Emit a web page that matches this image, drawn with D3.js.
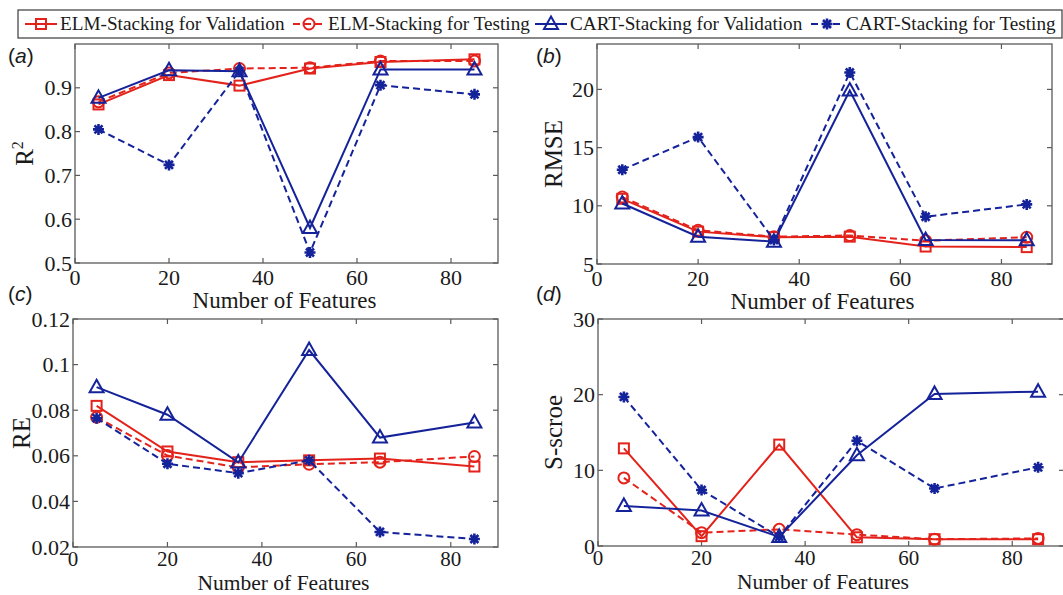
<!DOCTYPE html>
<html>
<head>
<meta charset="utf-8">
<script src="https://cdn.jsdelivr.net/npm/d3@7"></script>
<style>
body { margin: 0; background: #fff; }
svg { display: block; }
text { font-family: "Liberation Serif", "Times New Roman", serif; fill: #1a1a1a; }
</style>
</head>
<body>
<svg width="1063" height="595"></svg>
<script>
// number of features on the x axis
var features = [5, 20, 35, 50, 65, 85];
var seriesNames = ["ELM-Stacking for Validation", "ELM-Stacking for Testing",
                   "CART-Stacking for Validation", "CART-Stacking for Testing"];
var xTicks = [0, 20, 40, 60, 80];

// (a) R^2
var r2ElmVal   = [0.862, 0.929, 0.905, 0.944, 0.959, 0.965];
var r2ElmTest  = [0.868, 0.934, 0.944, 0.946, 0.961, 0.961];
var r2CartVal  = [0.877, 0.940, 0.938, 0.580, 0.942, 0.942];
var r2CartTest = [0.805, 0.724, 0.938, 0.524, 0.906, 0.885];
var r2Ticks = [0.5, 0.6, 0.7, 0.8, 0.9];

// (b) RMSE
var rmseElmVal   = [10.6, 7.78, 7.30, 7.35, 6.50, 6.45];
var rmseElmTest  = [10.75, 7.90, 7.35, 7.45, 7.00, 7.30];
var rmseCartVal  = [10.2, 7.35, 6.92, 19.9, 7.06, 7.05];
var rmseCartTest = [13.1, 15.9, 7.06, 21.45, 9.06, 10.12];
var rmseTicks = [5, 10, 15, 20];

// (c) RE
var reElmVal   = [0.0819, 0.0619, 0.0572, 0.0580, 0.0588, 0.0553];
var reElmTest  = [0.0769, 0.0601, 0.0549, 0.0563, 0.0572, 0.0597];
var reCartVal  = [0.0901, 0.0780, 0.0571, 0.1064, 0.0680, 0.0746];
var reCartTest = [0.0765, 0.0565, 0.0524, 0.0580, 0.0266, 0.0235];
var reTicks = [0.02, 0.04, 0.06, 0.08, 0.1, 0.12];

// (d) S-score
var sElmVal   = [12.9, 1.3, 13.4, 1.15, 0.9, 0.9];
var sElmTest  = [9.0, 1.76, 2.2, 1.5, 0.9, 1.0];
var sCartVal  = [5.3, 4.7, 1.2, 12.0, 20.1, 20.4];
var sCartTest = [19.7, 7.4, 1.2, 13.9, 7.6, 10.4];
var sTicks = [0, 10, 20, 30];

var red = "#e3231b", blue = "#15239a";
var styles = [
    {color: red,  dash: null,  marker: "square"},
    {color: red,  dash: "7,4", marker: "circle"},
    {color: blue, dash: null,  marker: "triangle"},
    {color: blue, dash: "7,4", marker: "asterisk"}
];

// top row has room below; bottom row is squeezed against the page edge
var rowText = {
    top:    {tickSize: 22, tickDy: 22, titleSize: 23, titleDy: 45},
    bottom: {tickSize: 21, tickDy: 19, titleSize: 21.5, titleDy: 43}
};

var panels = [
    {tag: "a", row: "top", box: [75, 498, 44, 263],  yDomain: [0.5, 1.0],  yTicks: r2Ticks,   fmt: d => d3.format(".1f")(d),
     yLabel: "R", sup: "2", series: [r2ElmVal, r2ElmTest, r2CartVal, r2CartTest], tagPos: [8, 63], ylx: 25},
    {tag: "b", row: "top", box: [597, 1052, 44, 264], yDomain: [5, 23.9],   yTicks: rmseTicks, fmt: d => d,
     yLabel: "RMSE", series: [rmseElmVal, rmseElmTest, rmseCartVal, rmseCartTest], tagPos: [536, 63], ylx: 554},
    {tag: "c", row: "bottom", box: [73, 498, 319, 547], yDomain: [0.02, 0.12], yTicks: reTicks, fmt: d => String(+d.toFixed(2)),
     yLabel: "RE", series: [reElmVal, reElmTest, reCartVal, reCartTest], tagPos: [8, 301], ylx: 22},
    {tag: "d", row: "bottom", box: [598, 1064, 319, 546], yDomain: [0, 30],  yTicks: sTicks,  fmt: d => d,
     yLabel: "S-scroe", series: [sElmVal, sElmTest, sCartVal, sCartTest], tagPos: [536, 301], ylx: 554}
];

var svg = d3.select("svg");

function drawMarker(g, type, x, y, color) {
    if (type === "square") {
        g.append("rect").attr("x", x - 5).attr("y", y - 5).attr("width", 10).attr("height", 10)
            .attr("fill", "none").attr("stroke", color).attr("stroke-width", 2);
    } else if (type === "circle") {
        g.append("circle").attr("cx", x).attr("cy", y).attr("r", 5.5)
            .attr("fill", "none").attr("stroke", color).attr("stroke-width", 2);
    } else if (type === "triangle") {
        g.append("path").attr("d", `M${x},${y - 7.5}L${x + 7},${y + 5}L${x - 7},${y + 5}Z`)
            .attr("fill", "none").attr("stroke", color).attr("stroke-width", 2);
    } else {
        var r = 5.5, q = 4;
        g.append("path")
            .attr("d", `M${x - r},${y}L${x + r},${y}M${x},${y - r}L${x},${y + r}` +
                       `M${x - q},${y - q}L${x + q},${y + q}M${x - q},${y + q}L${x + q},${y - q}`)
            .attr("stroke", color).attr("stroke-width", 2.6).attr("fill", "none");
    }
}

panels.forEach(p => {
    var [l, r, t, b] = p.box;
    var rt = rowText[p.row];
    var x = d3.scaleLinear().domain([0, 90]).range([l, r]);
    var y = d3.scaleLinear().domain(p.yDomain).range([b, t]);
    var g = svg.append("g");

    // box
    g.append("rect").attr("x", l).attr("y", t).attr("width", r - l).attr("height", b - t)
        .attr("fill", "none").attr("stroke", "#5a5a5a").attr("stroke-width", 1.3);

    // inward ticks, all four sides
    var tk = g.append("g").attr("stroke", "#5a5a5a").attr("stroke-width", 1.2);
    xTicks.forEach(v => {
        tk.append("line").attr("x1", x(v)).attr("x2", x(v)).attr("y1", b).attr("y2", b - 5);
        tk.append("line").attr("x1", x(v)).attr("x2", x(v)).attr("y1", t).attr("y2", t + 5);
    });
    p.yTicks.forEach(v => {
        tk.append("line").attr("x1", l).attr("x2", l + 5).attr("y1", y(v)).attr("y2", y(v));
        tk.append("line").attr("x1", r).attr("x2", r - 5).attr("y1", y(v)).attr("y2", y(v));
    });

    g.selectAll(".xl").data(xTicks).enter().append("text")
        .attr("x", d => x(d)).attr("y", b + rt.tickDy).attr("text-anchor", "middle")
        .attr("font-size", rt.tickSize).text(d => d);
    g.selectAll(".yl").data(p.yTicks).enter().append("text")
        .attr("x", l - 3).attr("y", d => y(d) + 7.5).attr("text-anchor", "end")
        .attr("font-size", 22).text(p.fmt);

    g.append("text").attr("x", (l + Math.min(r, 1052)) / 2 - 2).attr("y", b + rt.titleDy)
        .attr("text-anchor", "middle").attr("font-size", rt.titleSize).text("Number of Features");

    var yl = g.append("text").attr("transform", `translate(${p.ylx + 8},${(t + b) / 2}) rotate(-90)`)
        .attr("text-anchor", "middle").attr("font-size", 25).text(p.yLabel);
    if (p.sup) yl.append("tspan").attr("dy", -10).attr("font-size", 16).text(p.sup);

    var tg = g.append("text").attr("x", p.tagPos[0]).attr("y", p.tagPos[1])
        .style("font-family", "'Liberation Sans', Arial, sans-serif").attr("font-size", 21);
    tg.append("tspan").text("(");
    tg.append("tspan").attr("font-style", "italic").text(p.tag);
    tg.append("tspan").text(")");

    var line = d3.line().x((d, i) => x(features[i])).y(d => y(d));
    p.series.forEach((vals, si) => {
        var st = styles[si];
        var sg = g.append("g");
        sg.append("path").datum(vals).attr("d", line)
            .attr("fill", "none").attr("stroke", st.color).attr("stroke-width", 2)
            .attr("stroke-dasharray", st.dash);
        vals.forEach((v, i) => drawMarker(sg, st.marker, x(features[i]), y(v), st.color));
    });
});

// legend
var lg = svg.append("g");
lg.append("rect").attr("x", 18).attr("y", 10).attr("width", 1044).attr("height", 28)
    .attr("fill", "#fff").attr("stroke", "#3a3a3a").attr("stroke-width", 1.2);
var itemX = [25, 293, 535, 811];
seriesNames.forEach((name, i) => {
    var st = styles[i], cx = itemX[i];
    lg.append("line").attr("x1", cx).attr("x2", cx + 32).attr("y1", 24).attr("y2", 24)
        .attr("stroke", st.color).attr("stroke-width", 2).attr("stroke-dasharray", st.dash ? "7,4" : null);
    drawMarker(lg, st.marker, cx + 16, 24, st.color);
    lg.append("text").attr("x", cx + 35).attr("y", 30).attr("font-size", 19.2).text(name);
});
</script>
</body>
</html>
